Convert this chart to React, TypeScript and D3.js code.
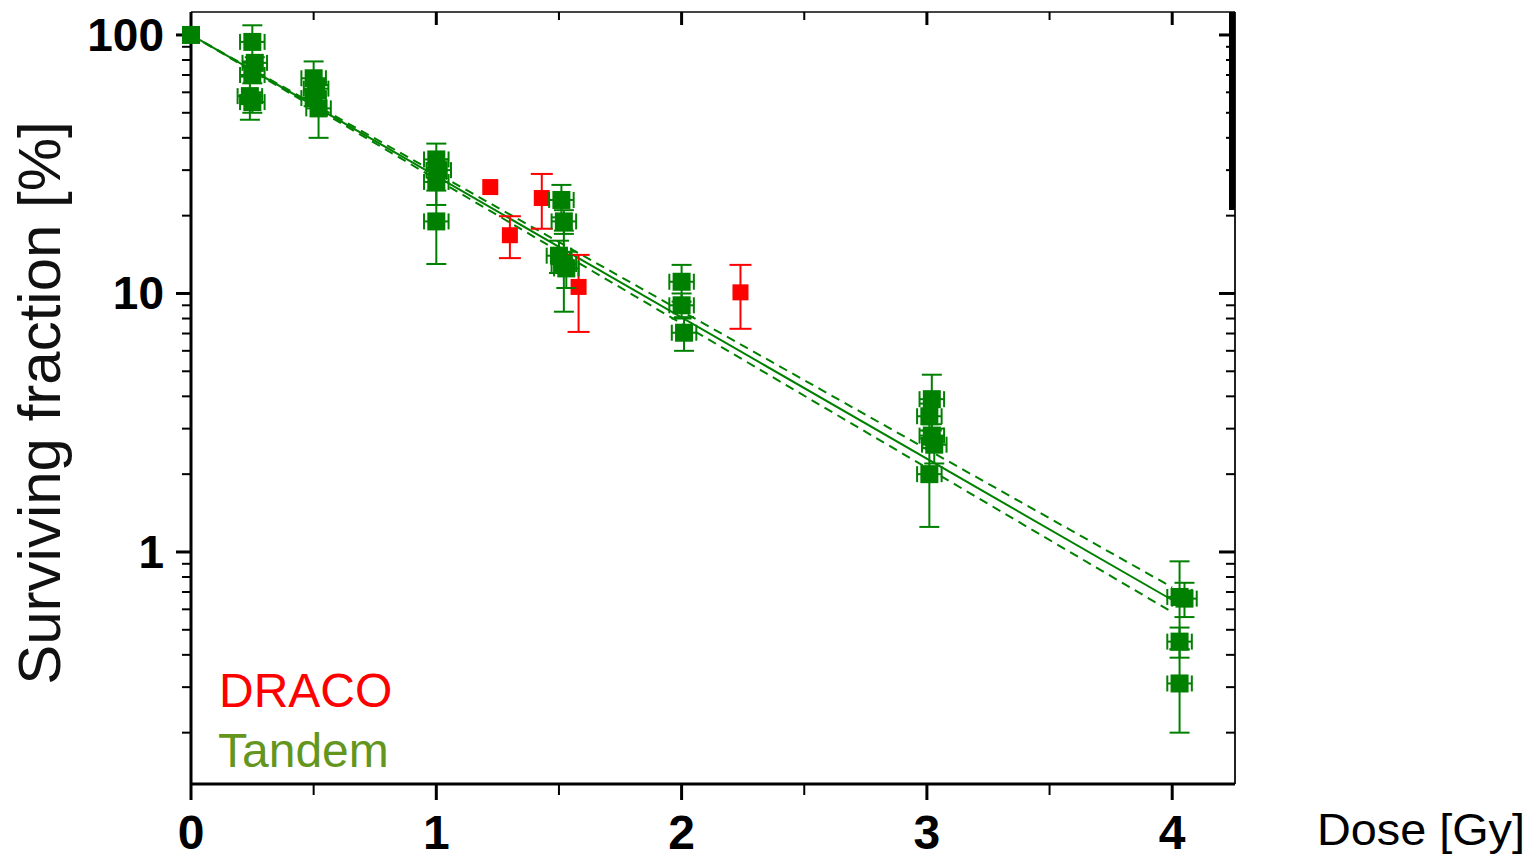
import React from "react";
import * as d3 from "d3";

// ---- data ----
const tandemDose = [0, 0.25, 0.26, 0.25, 0.24, 0.25, 0.5, 0.51, 0.5, 0.52, 1.0, 1.01, 1.0, 1.0, 1.51, 1.52, 1.5, 1.52, 1.53, 2.0, 2.0, 2.01, 3.02, 3.01, 3.02, 3.03, 3.01, 4.03, 4.05, 4.03, 4.03];
const tandemSF = [100, 94, 78, 70, 58, 55, 68, 62, 57, 52, 33, 30, 27, 19, 23, 19, 14, 13, 12.5, 11.1, 9.0, 7.05, 3.9, 3.35, 2.82, 2.6, 2.0, 0.67, 0.66, 0.45, 0.31];
const tandemErr = [0, 15, 4, 5, 11, 5, 11, 5, 4, 12, 5, 3, 5, 6, 3.3, 2, 2, 4.5, 2, 1.8, 1, 1.05, 0.95, 0.4, 0.3, 0.4, 0.75, 0.25, 0.1, 0.06, 0.11];
const tandemDoseErr = 0.05;

const dracoDose = [1.22, 1.3, 1.43, 1.58, 2.24];
const dracoSF = [25.8, 16.8, 23.4, 10.6, 10.1];
const dracoErr = [0, 3.1, 5.6, 3.5, 2.8];

const fitDose = [0, 4];
const fitSF = [100, 0.652];
const fitUpper = [100, 0.73];
const fitLower = [100, 0.585];

const xMajor = [0, 1, 2, 3, 4];
const xMinor = [0.5, 1.5, 2.5, 3.5];
const yMajor = [100, 10, 1];
const yMinor = [0.2, 0.3, 0.4, 0.5, 0.6, 0.7, 0.8, 0.9, 2, 3, 4, 5, 6, 7, 8, 9, 20, 30, 40, 50, 60, 70, 80, 90];

const legendLabels = ["DRACO", "Tandem"];
const xTitle = "Dose [Gy]";
const yTitle = "Surviving fraction [%]";

const GREEN = "#008000";
const RED = "#ff0000";
const LEGEND_GREEN = "#64961e";

export default function App() {
  const W = 1535, H = 861;
  const L = 191, R = 1235, T = 12, B = 784;
  const x = d3.scaleLinear().domain([0, 4.256]).range([L, R]);
  const y = d3.scaleLog().domain([0.1266, 122.7]).range([B, T]);

  const line = (ds: number[], vs: number[]) =>
    d3.line<number>().x((_, i) => x(ds[i])).y((v) => y(v))(vs) || "";

  const sq = 18;
  const dsq = 16;

  return (
    <svg width={W} height={H} style={{ position: "absolute", left: 0, top: 0, background: "#fff" }} fontFamily="Arial, 'Liberation Sans', sans-serif">
      {/* frame */}
      <line x1={L} x2={R} y1={T} y2={T} stroke="#444" strokeWidth={2} />
      <line x1={R} x2={R} y1={T} y2={B} stroke="#222" strokeWidth={2} />
      <rect x={R - 6} y={T} width={6} height={198} fill="#000" />
      <line x1={L} x2={R} y1={B} y2={B} stroke="#000" strokeWidth={3} />
      <line x1={L} x2={L} y1={T} y2={B} stroke="#000" strokeWidth={3} />

      {/* x ticks */}
      {xMajor.map((d) => (
        <g key={"xM" + d}>
          <line x1={x(d)} x2={x(d)} y1={B} y2={B + 16} stroke="#000" strokeWidth={3} />
          {d > 0 && <line x1={x(d)} x2={x(d)} y1={T} y2={T + 13} stroke="#000" strokeWidth={3} />}
          <text x={x(d)} y={849} textAnchor="middle" fontSize={48} fontWeight="bold">{d}</text>
        </g>
      ))}
      {xMinor.map((d) => (
        <g key={"xm" + d}>
          <line x1={x(d)} x2={x(d)} y1={B} y2={B + 11} stroke="#000" strokeWidth={2} />
          <line x1={x(d)} x2={x(d)} y1={T} y2={T + 8} stroke="#000" strokeWidth={2} />
        </g>
      ))}

      {/* y ticks */}
      {yMajor.map((v) => (
        <g key={"yM" + v}>
          <line x1={L - 15} x2={L} y1={y(v)} y2={y(v)} stroke="#000" strokeWidth={3} />
          <line x1={R - 16} x2={R} y1={y(v)} y2={y(v)} stroke="#000" strokeWidth={3} />
          <text x={164} y={y(v) + 16} textAnchor="end" fontSize={46} fontWeight="bold">{v}</text>
        </g>
      ))}
      {yMinor.map((v) => (
        <g key={"ym" + v}>
          <line x1={L - 9} x2={L} y1={y(v)} y2={y(v)} stroke="#000" strokeWidth={2} />
          <line x1={R - 9} x2={R} y1={y(v)} y2={y(v)} stroke="#000" strokeWidth={2} />
        </g>
      ))}

      {/* fit lines */}
      <path d={line(fitDose, fitSF)} fill="none" stroke={GREEN} strokeWidth={2} />
      <path d={line(fitDose, fitUpper)} fill="none" stroke={GREEN} strokeWidth={2} strokeDasharray="9,6" />
      <path d={line(fitDose, fitLower)} fill="none" stroke={GREEN} strokeWidth={2} strokeDasharray="9,6" />

      {/* DRACO */}
      {dracoDose.map((d, i) => {
        const cx = x(d), cy = y(dracoSF[i]);
        const e = dracoErr[i];
        const y1 = y(dracoSF[i] + e), y2 = y(dracoSF[i] - e);
        return (
          <g key={"dr" + i} stroke={RED} strokeWidth={2}>
            {e > 0 && (
              <>
                <line x1={cx} x2={cx} y1={y1} y2={y2} />
                <line x1={cx - 11} x2={cx + 11} y1={y1} y2={y1} />
                <line x1={cx - 11} x2={cx + 11} y1={y2} y2={y2} />
              </>
            )}
            <rect x={cx - dsq / 2} y={cy - dsq / 2} width={dsq} height={dsq} fill={RED} stroke="none" />
          </g>
        );
      })}

      {/* Tandem */}
      {tandemDose.map((d, i) => {
        const cx = x(d), cy = y(tandemSF[i]);
        const e = tandemErr[i];
        const y1 = y(tandemSF[i] + e), y2 = y(Math.max(tandemSF[i] - e, 0.13));
        const xl = x(d - tandemDoseErr), xr = x(d + tandemDoseErr);
        return (
          <g key={"td" + i} stroke={GREEN} strokeWidth={2}>
            {i > 0 && (
              <>
                <line x1={cx} x2={cx} y1={y1} y2={y2} />
                <line x1={cx - 10} x2={cx + 10} y1={y1} y2={y1} />
                <line x1={cx - 10} x2={cx + 10} y1={y2} y2={y2} />
                <line x1={xl} x2={xr} y1={cy} y2={cy} />
                <line x1={xl} x2={xl} y1={cy - 8} y2={cy + 8} />
                <line x1={xr} x2={xr} y1={cy - 8} y2={cy + 8} />
              </>
            )}
            <rect x={cx - sq / 2} y={cy - sq / 2} width={sq} height={sq} fill={GREEN} stroke="none" />
          </g>
        );
      })}

      {/* legend */}
      <text x={219} y={707} fontSize={48} fill={RED}>{legendLabels[0]}</text>
      <text x={218} y={767} fontSize={48} fill={LEGEND_GREEN}>{legendLabels[1]}</text>

      {/* titles */}
      <text x={1317} y={845} fontSize={44} textLength={208} lengthAdjust="spacingAndGlyphs">{xTitle}</text>
      <text transform={`translate(60,403) rotate(-90)`} textAnchor="middle" fontSize={60} fill="#111">{yTitle}</text>
    </svg>
  );
}
